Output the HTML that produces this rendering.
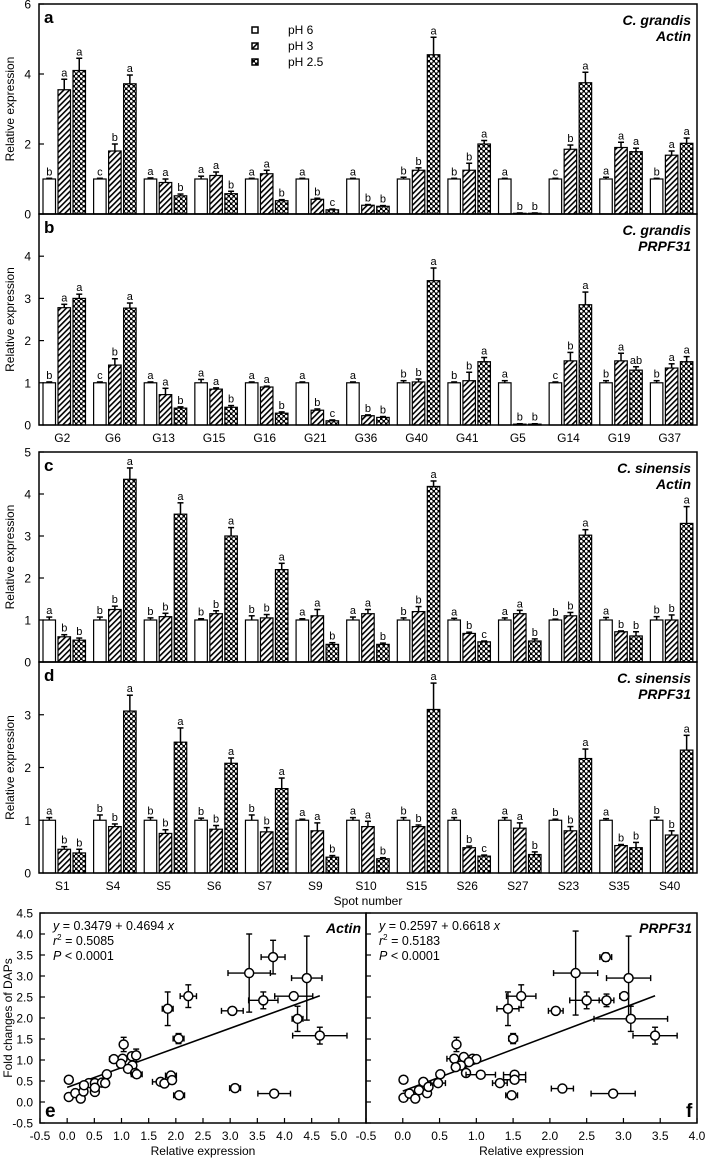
<!DOCTYPE html>
<html><head><meta charset="utf-8">
<style>
body{margin:0;background:#fff;}
svg{display:block;font-family:"Liberation Sans",Arial,sans-serif;}
</style></head>
<body>
<svg id="chart" width="706" height="1158" viewBox="0 0 706 1158" xmlns="http://www.w3.org/2000/svg">
<defs>
<pattern id="hatch" patternUnits="userSpaceOnUse" width="4" height="4" patternTransform="rotate(45)">
<rect width="4" height="4" fill="#fff"/><rect x="0" y="0" width="1.6" height="4" fill="#000"/>
</pattern>
<pattern id="cross" patternUnits="userSpaceOnUse" width="5" height="5">
<rect width="5" height="5" fill="#000"/>
<circle cx="1.25" cy="1.25" r="1.35" fill="#fff"/>
<circle cx="3.75" cy="3.75" r="1.35" fill="#fff"/>
</pattern>
</defs>
</svg>
<script>
const gCats=['G2','G6','G13','G15','G16','G21','G36','G40','G41','G5','G14','G19','G37'];
const sCats=['S1','S4','S5','S6','S7','S9','S10','S15','S26','S27','S23','S35','S40'];
// panel a
const aPH6=[1,1,1,1,1,1,1,1,1,1,1,1,1];
const aPH3=[3.55,1.8,0.9,1.1,1.15,0.42,0.25,1.25,1.25,0.02,1.85,1.9,1.68];
const aPH25=[4.1,3.72,0.52,0.58,0.38,0.12,0.22,4.55,2.0,0.02,3.75,1.78,2.02];
const aE6=[0.02,0.02,0.03,0.08,0.02,0.02,0.02,0.05,0.02,0.02,0.02,0.05,0.02];
const aE3=[0.3,0.2,0.1,0.1,0.1,0.03,0.02,0.07,0.2,0.01,0.12,0.15,0.12];
const aE25=[0.35,0.25,0.05,0.07,0.03,0.02,0.02,0.5,0.1,0.01,0.3,0.1,0.15];
const aLet=['b','a','a','c','b','a','a','a','b','a','a','b','a','a','b','a','b','c','a','b','b','b','b','a','b','b','a','a','b','b','c','b','a','a','a','a','b','a','a'];
// panel b
const bPH6=[1,1,1,1,1,1,1,1,1,1,1,1,1];
const bPH3=[2.78,1.42,0.72,0.85,0.9,0.35,0.22,1.02,1.05,0.02,1.52,1.52,1.35];
const bPH25=[3.0,2.77,0.4,0.42,0.28,0.1,0.18,3.42,1.5,0.02,2.85,1.3,1.5];
const bE6=[0.02,0.02,0.02,0.08,0.02,0.02,0.02,0.05,0.02,0.05,0.02,0.05,0.05];
const bE3=[0.08,0.15,0.15,0.03,0.02,0.03,0.02,0.07,0.2,0.01,0.2,0.18,0.1];
const bE25=[0.1,0.12,0.03,0.04,0.03,0.02,0.02,0.3,0.1,0.01,0.3,0.08,0.12];
const bLet=['b','a','a','c','b','a','a','a','b','a','a','b','a','a','b','a','b','c','a','b','b','b','b','a','b','b','a','a','b','b','c','b','a','b','a','ab','b','a','a'];
// panel c
const cPH6=[1,1,1,1,1,1,1,1,1,1,1,1,1];
const cPH3=[0.6,1.25,1.08,1.15,1.05,1.1,1.15,1.2,0.68,1.15,1.1,0.72,1.0];
const cPH25=[0.52,4.35,3.52,3.0,2.2,0.42,0.42,4.18,0.48,0.5,3.02,0.62,3.3];
const cE6=[0.07,0.07,0.05,0.03,0.1,0.03,0.07,0.05,0.04,0.05,0.02,0.06,0.08];
const cE3=[0.05,0.08,0.08,0.07,0.08,0.15,0.1,0.12,0.03,0.08,0.08,0.02,0.12];
const cE25=[0.05,0.27,0.27,0.2,0.15,0.04,0.03,0.13,0.02,0.05,0.13,0.1,0.4];
const cLet=['a','b','b','b','b','a','b','b','a','b','b','a','b','b','a','a','a','b','a','a','b','b','b','a','a','b','c','a','a','b','b','b','a','a','b','b','b','b','a'];
// panel d
const dPH6=[1,1,1,1,1,1,1,1,1,1,1,1,1];
const dPH3=[0.45,0.88,0.75,0.83,0.78,0.8,0.88,0.88,0.48,0.85,0.8,0.52,0.72];
const dPH25=[0.38,3.07,2.48,2.08,1.6,0.3,0.27,3.1,0.32,0.35,2.17,0.48,2.33];
const dE6=[0.05,0.1,0.05,0.04,0.1,0.02,0.05,0.05,0.05,0.05,0.02,0.03,0.06];
const dE3=[0.05,0.05,0.07,0.07,0.08,0.15,0.1,0.03,0.03,0.1,0.08,0.02,0.08];
const dE25=[0.07,0.3,0.27,0.1,0.2,0.03,0.02,0.5,0.02,0.05,0.18,0.1,0.28];
const dLet=['a','b','b','b','b','a','b','b','a','b','b','a','b','b','a','a','a','b','a','a','b','b','b','a','a','b','c','a','a','b','b','b','a','a','b','b','b','b','a'];
// scatter e
const eX=[3.35,3.79,4.41,4.17,3.61,3.04,2.23,1.85,4.24,4.65,2.05,1.04,0.86,1.02,1.19,1.27,0.99,1.2,1.12,1.25,1.28,0.73,1.91,1.72,1.79,1.93,2.06,3.09,3.81,0.03,0.03,0.15,0.25,0.3,0.4,0.51,0.51,0.64,0.7,0.31,0.51];
const eY=[3.07,3.45,2.95,2.52,2.42,2.17,2.52,2.22,1.98,1.58,1.51,1.37,1.02,1.03,1.09,1.11,0.91,0.87,0.79,0.69,0.66,0.66,0.63,0.48,0.44,0.52,0.16,0.33,0.2,0.53,0.12,0.21,0.08,0.25,0.45,0.24,0.45,0.46,0.45,0.4,0.34];
const eXE=[0.39,0.22,0.28,0.35,0.27,0.2,0.15,0.1,0.1,0.5,0.1,0.05,0.08,0.05,0.05,0.05,0.05,0.05,0.05,0.05,0.1,0.03,0.1,0.15,0.05,0.05,0.1,0.1,0.3,0.03,0.02,0.02,0.02,0.02,0.03,0.03,0.03,0.03,0.03,0.02,0.02];
const eYE=[0.93,0.4,1.0,0.05,0.2,0.05,0.27,0.4,0.3,0.2,0.12,0.17,0.05,0.05,0.05,0.15,0.05,0.05,0.05,0.05,0.05,0.03,0.05,0.03,0.03,0.03,0.03,0.03,0.03,0.05,0.02,0.02,0.02,0.02,0.03,0.03,0.03,0.03,0.03,0.02,0.02];
// scatter f
const fX=[2.35,2.76,3.07,3.01,2.5,2.77,2.08,1.61,1.43,3.1,3.43,1.5,0.73,0.7,0.83,0.95,1.0,0.9,0.79,0.72,0.86,1.06,1.52,1.52,1.32,1.48,2.17,2.86,0.01,0.01,0.09,0.17,0.22,0.28,0.33,0.35,0.48,0.51];
const fY=[3.07,3.45,2.95,2.52,2.42,2.42,2.17,2.52,2.22,1.98,1.58,1.51,1.37,1.03,1.07,1.03,1.02,0.95,0.87,0.83,0.69,0.65,0.65,0.53,0.45,0.16,0.32,0.2,0.53,0.1,0.2,0.08,0.28,0.48,0.21,0.36,0.45,0.66];
const fXE=[0.3,0.08,0.3,0.06,0.23,0.1,0.1,0.2,0.15,0.5,0.3,0.06,0.04,0.1,0.05,0.05,0.05,0.05,0.05,0.05,0.05,0.2,0.15,0.15,0.1,0.08,0.15,0.3,0.02,0.02,0.02,0.02,0.02,0.03,0.03,0.03,0.1,0.03];
const fYE=[1.0,0.1,1.0,0.05,0.2,0.15,0.05,0.27,0.4,0.3,0.2,0.12,0.17,0.05,0.05,0.05,0.05,0.05,0.05,0.05,0.05,0.03,0.03,0.03,0.03,0.03,0.03,0.03,0.05,0.02,0.02,0.02,0.02,0.03,0.03,0.03,0.03,0.03];

const NS='http://www.w3.org/2000/svg';
const svg=document.getElementById('chart');
function el(tag,attrs,parent){const e=document.createElementNS(NS,tag);for(const k in attrs)e.setAttribute(k,attrs[k]);(parent||svg).appendChild(e);return e;}
function txt(s,x,y,size,anchor,extra,parent){const t=el('text',Object.assign({x:x,y:y,'font-size':size,'text-anchor':anchor||'start',fill:'#000'},extra||{}),parent);t.textContent=s;return t;}

const L=39,R=697;
function barPanel(name,top,bot,max,tickVals,cats,p6,p3,p25,e6,e3,e25,lets,letter,sp,gene,showCats){
  const g=el('g',{});
  
  
  const y=v=>bot-(v/max)*(bot-top);
  const band=(R-L)/cats.length;
  const fills=['#fff','url(#hatch)','url(#cross)'];
  const sets=[[p6,e6],[p3,e3],[p25,e25]];
  cats.forEach((c,i)=>{
    const x0=L+band*i+4;
    for(let k=0;k<3;k++){
      const v=sets[k][0][i],er=sets[k][1][i];
      const bx=x0+k*15,bw=12.5;
      const r=el('rect',{x:bx,y:y(v),width:bw,height:bot-y(v),fill:fills[k],stroke:'#000','stroke-width':1.2},g);
      
      
      const cx=bx+bw/2,ty=y(v+er);
      el('line',{x1:cx,y1:y(v),x2:cx,y2:ty,stroke:'#000','stroke-width':1.5},g);
      el('line',{x1:cx-3,y1:ty,x2:cx+3,y2:ty,stroke:'#000','stroke-width':1.5},g);
      const lt=txt(lets[i*3+k],cx,ty-3,11,'middle',{},g);
      
      
    }
    if(showCats){const ct=txt(c,L+band*i+band/2-2,bot+17,12,'middle',{},g);
      
      }
  });
  el('rect',{x:L,y:top,width:R-L,height:bot-top,fill:'none',stroke:'#000','stroke-width':1.5},g);
  tickVals.forEach(v=>{
    el('line',{x1:L,y1:y(v),x2:L+5,y2:y(v),stroke:'#000','stroke-width':1.2},g);
    const t=txt(String(v),31,y(v)+4.5,12,'end',{},g);
    
    
  });
  const yl=txt('Relative expression',0,0,12,'middle',{transform:'translate(14,'+((top+bot)/2)+') rotate(-90)'},g);
  
  
  const pl=txt(letter,44,top+19,17,'start',{'font-weight':'bold'},g);
  
  
  const t1=txt(sp,691,top+21,14,'end',{'font-weight':'bold','font-style':'italic'},g);
  
  
  const t2=txt(gene,691,top+37,14,'end',{'font-weight':'bold','font-style':'italic'},g);
  
  
}
barPanel('panel-a',4,214,6,[0,2,4,6],gCats,aPH6,aPH3,aPH25,aE6,aE3,aE25,aLet,'a','C. grandis','Actin',false);
barPanel('panel-b',214,425,5,[0,1,2,3,4],gCats,bPH6,bPH3,bPH25,bE6,bE3,bE25,bLet,'b','C. grandis','PRPF31',true);
barPanel('panel-c',452,662,5,[0,1,2,3,4,5],sCats,cPH6,cPH3,cPH25,cE6,cE3,cE25,cLet,'c','C. sinensis','Actin',false);
barPanel('panel-d',662,873,4,[0,1,2,3],sCats,dPH6,dPH3,dPH25,dE6,dE3,dE25,dLet,'d','C. sinensis','PRPF31',true);
const sn=txt('Spot number',368,905,12,'middle');



// legend
const legLabels=['pH 6','pH 3','pH 2.5'];
const legFills=['#fff','url(#hatch)','url(#cross)'];
legLabels.forEach((s,i)=>{
  const ly=27+i*16;
  const r=el('rect',{x:252,y:ly,width:6,height:6,fill:legFills[i],stroke:'#000','stroke-width':1.5});
  
  
  const t=txt(s,288,ly+7,12,'start');
  
  
});

// scatter panels
const sTop=913,sBot=1123,yMin=-0.5,yMax=4.5;
const sy=v=>sBot-(v-yMin)/(yMax-yMin)*(sBot-sTop);
const eTicks=['-0.5','0.0','0.5','1.0','1.5','2.0','2.5','3.0','3.5','4.0','4.5','5.0'];
const fTicks=['-0.5','0.0','0.5','1.0','1.5','2.0','2.5','3.0','3.5','4.0'];
const yTicks=['-0.5','0.0','0.5','1.0','1.5','2.0','2.5','3.0','3.5','4.0','4.5'];
function scatter(name,xl,xr,xmin,xmax,xs,ys,xe,ye,ticks,a,b,eq,r2,gene,letter,showY){
  const g=el('g',{});
  
  
  const sx=v=>xl+(v-xmin)/(xmax-xmin)*(xr-xl);
  el('rect',{x:xl,y:sTop,width:xr-xl,height:sBot-sTop,fill:'none',stroke:'#000','stroke-width':1.5},g);
  ticks.forEach(s=>{const v=parseFloat(s);
    el('line',{x1:sx(v),y1:sBot,x2:sx(v),y2:sBot-5,stroke:'#000','stroke-width':1.2},g);
    const t=txt(s,sx(v),sBot+17,12,'middle',{},g);
    
    });
  yTicks.forEach(s=>{const v=parseFloat(s);
    el('line',{x1:xl,y1:sy(v),x2:xl+5,y2:sy(v),stroke:'#000','stroke-width':1.2},g);
    if(showY){const t=txt(s,33,sy(v)+4.5,12,'end',{},g);
      
      }});
  const x1=0,x2=Math.max(...xs.filter((v,i)=>ys[i]>1.4));
  const rl=el('line',{x1:sx(x1),y1:sy(a+b*x1),x2:sx(x2),y2:sy(a+b*x2),stroke:'#000','stroke-width':1.6},g);
  
  
  xs.forEach((xv,i)=>{
    const cx=sx(xv),cy=sy(ys[i]);
    const x0=sx(xv-xe[i]),x9=sx(xv+xe[i]),y0=sy(ys[i]-ye[i]),y9=sy(ys[i]+ye[i]);
    el('line',{x1:x0,y1:cy,x2:x9,y2:cy,stroke:'#000','stroke-width':1.4},g);
    el('line',{x1:x0,y1:cy-3,x2:x0,y2:cy+3,stroke:'#000','stroke-width':1.4},g);
    el('line',{x1:x9,y1:cy-3,x2:x9,y2:cy+3,stroke:'#000','stroke-width':1.4},g);
    el('line',{x1:cx,y1:y0,x2:cx,y2:y9,stroke:'#000','stroke-width':1.4},g);
    el('line',{x1:cx-3,y1:y0,x2:cx+3,y2:y0,stroke:'#000','stroke-width':1.4},g);
    el('line',{x1:cx-3,y1:y9,x2:cx+3,y2:y9,stroke:'#000','stroke-width':1.4},g);
    const c=el('circle',{cx:cx,cy:cy,r:4.5,fill:'#fff',stroke:'#000','stroke-width':1.5},g);
    
    
  });
  const t1=el('text',{x:xl+13,y:sTop+17,'font-size':12.5},g);
  t1.innerHTML='<tspan font-style="italic">y</tspan> = '+eq+' <tspan font-style="italic">x</tspan>';
  
  
  const t2=el('text',{x:xl+13,y:sTop+32,'font-size':12.5},g);
  t2.innerHTML='<tspan font-style="italic">r</tspan><tspan font-size="8" dy="-5">2</tspan><tspan dy="5"> = '+r2+'</tspan>';
  
  
  const t3=el('text',{x:xl+13,y:sTop+47,'font-size':12.5},g);
  t3.innerHTML='<tspan font-style="italic">P</tspan> &lt; 0.0001';
  
  
  const gt=txt(gene,xr-5,sTop+20,14,'end',{'font-weight':'bold','font-style':'italic'},g);
  
  
  const pl=txt(letter,letter==='e'?xl+5:xr-11,sBot-6,19,'start',{'font-weight':'bold'},g);
  
  
  const xt=txt('Relative expression',(xl+xr)/2,sBot+32,12,'middle',{},g);
  
  
}
scatter('panel-e',40,366,-0.5,5.5,eX,eY,eXE,eYE,eTicks,0.3479,0.4694,'0.3479 + 0.4694','0.5085','Actin','e',true);
scatter('panel-f',366,697,-0.5,4.0,fX,fY,fXE,fYE,fTicks,0.2597,0.6618,'0.2597 + 0.6618','0.5183','PRPF31','f',false);
const fy=txt('Fold changes of DAPs',0,0,12,'middle',{transform:'translate(12,1018) rotate(-90)'});


</script>
</body></html>
